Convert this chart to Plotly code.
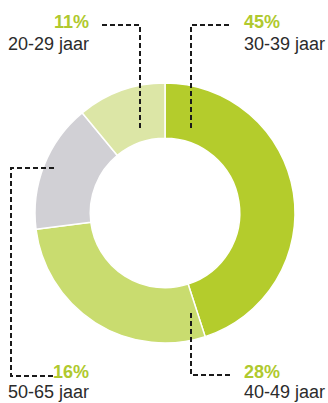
import plotly.graph_objects as go

# Age distribution shares (clockwise from 12 o'clock)
age_groups = ["30-39 jaar", "40-49 jaar", "50-65 jaar", "20-29 jaar"]
shares = [45, 28, 16, 11]
slice_colors = ["#b4cc2c", "#c9dc6f", "#d1d0d5", "#dce6a6"]

W, H = 328, 403
cx, cy, r_out = 165, 213, 130

fig = go.Figure()

fig.add_trace(go.Pie(
    values=shares,
    labels=age_groups,
    sort=False,
    direction="clockwise",
    rotation=0,
    hole=0.575,
    textinfo="none",
    hoverinfo="label+percent",
    marker=dict(colors=slice_colors, line=dict(color="white", width=1.5)),
    domain=dict(x=[(cx - r_out) / W, (cx + r_out) / W],
                y=[(H - cy - r_out) / H, (H - cy + r_out) / H]),
    showlegend=False,
))

# Leader lines (pixel coordinates on a hidden overlay axis)
leaders = {
    "20-29 jaar": [(102, 25), (140, 25), (140, 130)],
    "30-39 jaar": [(229, 25), (191, 25), (191, 130)],
    "50-65 jaar": [(54, 168), (11, 168), (11, 376), (54, 376)],
    "40-49 jaar": [(191, 313), (191, 375), (230, 375)],
}
dash_line = dict(color="#1a1a1a", width=2, dash="5px,3px")
for pts in leaders.values():
    path = "M " + " L ".join(f"{x},{y}" for x, y in pts)
    fig.add_shape(type="path", path=path, xref="x", yref="y", line=dash_line)

# Label placement: (x, pct_y, label_y, anchor)
label_pos = {
    "20-29 jaar": (91, 22, 44, "right"),
    "30-39 jaar": (242, 22, 44, "left"),
    "50-65 jaar": (91, 372, 392, "right"),
    "40-49 jaar": (242, 372, 392, "left"),
}
for grp, val in zip(age_groups, shares):
    x, py, ly, anchor = label_pos[grp]
    fig.add_annotation(x=x, y=py, xref="x", yref="y", text=f"<b>{val}%</b>",
                       showarrow=False, xanchor=anchor, yanchor="middle",
                       font=dict(family="Liberation Sans", size=18, color="#b0c92e"))
    fig.add_annotation(x=x, y=ly, xref="x", yref="y",
                       text=grp, showarrow=False, xanchor=anchor, yanchor="middle",
                       font=dict(family="Liberation Sans", size=18, color="#2b2b2b"))

fig.update_layout(
    width=W, height=H,
    margin=dict(l=0, r=0, t=0, b=0),
    paper_bgcolor="white", plot_bgcolor="rgba(0,0,0,0)",
    xaxis=dict(range=[0, W], visible=False, fixedrange=True),
    yaxis=dict(range=[H, 0], visible=False, fixedrange=True),
)

fig.write_html("out.html")
